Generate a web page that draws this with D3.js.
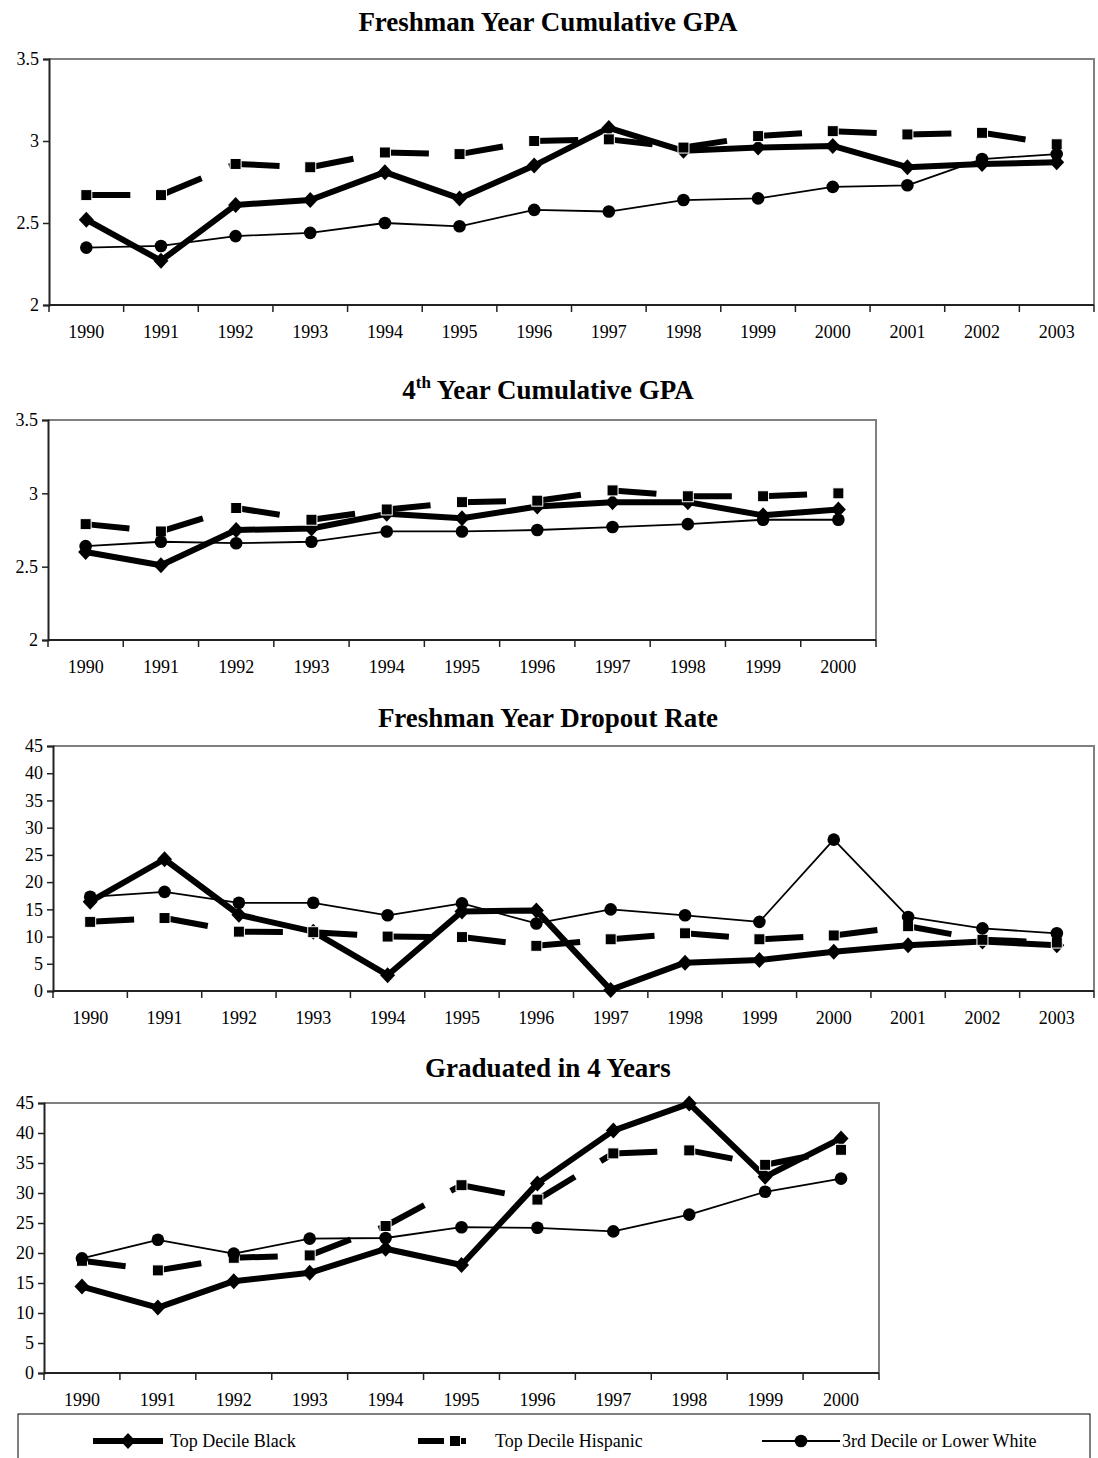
<!DOCTYPE html>
<html>
<head>
<meta charset="utf-8">
<script src="https://cdn.jsdelivr.net/npm/d3@7"></script>
<style>
  body { margin: 0; background: #fff; }
  svg { display: block; font-family: "Liberation Serif", "Times New Roman", serif; }
</style>
</head>
<body>
<script>
// Page size
const w = 1098;
const h = 1458;

// Categories
const years14 = ["1990","1991","1992","1993","1994","1995","1996","1997","1998","1999","2000","2001","2002","2003"];
const years11 = years14.slice(0, 11);

// Tick values for the value axes
const gpaTicks = [2, 2.5, 3, 3.5];
const pctTicks = [0, 5, 10, 15, 20, 25, 30, 35, 40, 45];

// Freshman Year Cumulative GPA
const freshGpaBlack    = [2.52, 2.27, 2.61, 2.64, 2.81, 2.65, 2.85, 3.08, 2.94, 2.96, 2.97, 2.84, 2.86, 2.87];
const freshGpaHispanic = [2.67, 2.67, 2.86, 2.84, 2.93, 2.92, 3.00, 3.01, 2.96, 3.03, 3.06, 3.04, 3.05, 2.98];
const freshGpaWhite    = [2.35, 2.36, 2.42, 2.44, 2.50, 2.48, 2.58, 2.57, 2.64, 2.65, 2.72, 2.73, 2.89, 2.92];

// 4th Year Cumulative GPA
const fourthGpaBlack    = [2.60, 2.51, 2.75, 2.76, 2.86, 2.83, 2.91, 2.94, 2.94, 2.85, 2.89];
const fourthGpaHispanic = [2.79, 2.74, 2.90, 2.82, 2.89, 2.94, 2.95, 3.02, 2.98, 2.98, 3.00];
const fourthGpaWhite    = [2.64, 2.67, 2.66, 2.67, 2.74, 2.74, 2.75, 2.77, 2.79, 2.82, 2.82];

// Freshman Year Dropout Rate
const dropBlack    = [16.4, 24.2, 14.0, 10.9, 2.9, 14.6, 14.8, 0.2, 5.2, 5.7, 7.2, 8.4, 9.1, 8.4];
const dropHispanic = [12.7, 13.4, 10.9, 10.8, 10.0, 9.9, 8.3, 9.5, 10.6, 9.5, 10.2, 11.9, 9.4, 8.9];
const dropWhite    = [17.3, 18.2, 16.2, 16.2, 13.9, 16.1, 12.4, 15.0, 13.9, 12.7, 27.8, 13.6, 11.5, 10.6];

// Graduated in 4 Years
const gradBlack    = [14.4, 10.9, 15.3, 16.7, 20.7, 18.0, 31.6, 40.4, 44.9, 32.7, 39.1];
const gradHispanic = [18.7, 17.1, 19.2, 19.6, 24.5, 31.3, 28.9, 36.6, 37.1, 34.7, 37.2];
const gradWhite    = [19.1, 22.2, 19.9, 22.4, 22.5, 24.3, 24.2, 23.6, 26.4, 30.2, 32.4];

const svg = d3.select("body").append("svg").attr("width", w).attr("height", h);

// Series styles (Black, Hispanic, White)
const seriesStyle = [
  { name: "Top Decile Black",          width: 6,   dash: null,    marker: "diamond" },
  { name: "Top Decile Hispanic",       width: 6,   dash: "44,30", marker: "square" },
  { name: "3rd Decile or Lower White", width: 1.8, dash: null,    marker: "circle" }
];

function drawMarker(g, type, x, y) {
  if (type === "diamond") {
    g.append("path")
      .attr("d", `M${x},${y - 8}L${x + 7.5},${y}L${x},${y + 8}L${x - 7.5},${y}Z`)
      .attr("fill", "#000");
  } else if (type === "square") {
    g.append("rect")
      .attr("x", x - 5.5).attr("y", y - 5.5)
      .attr("width", 11).attr("height", 11)
      .attr("fill", "#000").attr("stroke", "#fff").attr("stroke-width", 1);
  } else {
    g.append("circle").attr("cx", x).attr("cy", y).attr("r", 6.3).attr("fill", "#000");
  }
}

function drawChart(opt) {
  const g = svg.append("g");

  const x = d3.scaleBand().domain(opt.years).range([opt.left, opt.right]).padding(0);
  const y = d3.scaleLinear().domain(opt.domain).range([opt.bottom, opt.top]);
  const cx = d => x(d) + x.bandwidth() / 2;

  // Title
  const title = g.append("text")
    .attr("x", 548).attr("y", opt.titleY)
    .attr("text-anchor", "middle")
    .attr("font-size", 27).attr("font-weight", "bold");
  opt.title.forEach(part => {
    const t = title.append("tspan").text(part.text);
    if (part.sup) t.attr("font-size", 17).attr("dy", -11);
    else if (part.after) t.attr("dy", 11);
  });

  // Plot area border (top and right in grey)
  g.append("path")
    .attr("d", `M${opt.left},${opt.top}H${opt.right}V${opt.bottom}`)
    .attr("fill", "none").attr("stroke", "#808080").attr("stroke-width", 2);

  // Y axis
  const yAxis = d3.axisLeft(y).tickValues(opt.ticks).tickSize(6).tickPadding(4).tickFormat(d3.format(""));
  const gy = g.append("g").attr("transform", `translate(${opt.left},0)`).call(yAxis);
  gy.select(".domain").attr("stroke", "#222").attr("stroke-width", 2);
  gy.selectAll(".tick line").attr("stroke", "#222").attr("stroke-width", 1.5);
  gy.selectAll("text").attr("font-size", 18).attr("font-family", "Liberation Serif").attr("fill", "#000");

  // X axis: labels centred, tick marks between categories
  const xAxis = d3.axisBottom(x).tickSize(0).tickPadding(20);
  const gx = g.append("g").attr("transform", `translate(0,${opt.bottom})`).call(xAxis);
  gx.select(".domain").remove();
  gx.selectAll("text").attr("font-size", 18).attr("font-family", "Liberation Serif").attr("fill", "#000");
  g.append("line")
    .attr("x1", opt.left).attr("x2", opt.right)
    .attr("y1", opt.bottom).attr("y2", opt.bottom)
    .attr("stroke", "#222").attr("stroke-width", 2);
  const edges = opt.years.map(d => x(d)).concat([x(opt.years[opt.years.length - 1]) + x.bandwidth()]);
  g.selectAll(".xtick").data(edges).enter().append("line")
    .attr("x1", d => d).attr("x2", d => d)
    .attr("y1", opt.bottom).attr("y2", opt.bottom + 7)
    .attr("stroke", "#222").attr("stroke-width", 1.5);

  // Series
  opt.series.forEach((vals, si) => {
    const st = seriesStyle[si];
    const pts = vals.map((v, i) => [cx(opt.years[i]), y(v)]);
    const sg = g.append("g");
    if (st.dash) {
      // dash pattern restarts for every segment
      for (let i = 0; i < pts.length - 1; i++) {
        sg.append("line")
          .attr("x1", pts[i][0]).attr("y1", pts[i][1])
          .attr("x2", pts[i + 1][0]).attr("y2", pts[i + 1][1])
          .attr("stroke", "#000").attr("stroke-width", st.width)
          .attr("stroke-dasharray", st.dash);
      }
    } else {
      sg.append("path")
        .attr("d", d3.line()(pts))
        .attr("fill", "none").attr("stroke", "#000")
        .attr("stroke-width", st.width).attr("stroke-linejoin", "round");
    }
    pts.forEach(p => drawMarker(sg, st.marker, p[0], p[1]));
  });
}

drawChart({
  title: [{ text: "Freshman Year Cumulative GPA" }],
  titleY: 31, years: years14, domain: [2, 3.5], ticks: gpaTicks,
  left: 49, right: 1094, top: 59, bottom: 305,
  series: [freshGpaBlack, freshGpaHispanic, freshGpaWhite]
});

drawChart({
  title: [{ text: "4" }, { text: "th", sup: true }, { text: " Year Cumulative GPA", after: true }],
  titleY: 399, years: years11, domain: [2, 3.5], ticks: gpaTicks,
  left: 48, right: 876, top: 420, bottom: 640,
  series: [fourthGpaBlack, fourthGpaHispanic, fourthGpaWhite]
});

drawChart({
  title: [{ text: "Freshman Year Dropout Rate" }],
  titleY: 727, years: years14, domain: [0, 45], ticks: pctTicks,
  left: 53, right: 1094, top: 746, bottom: 991,
  series: [dropBlack, dropHispanic, dropWhite]
});

drawChart({
  title: [{ text: "Graduated in 4 Years" }],
  titleY: 1077, years: years11, domain: [0, 45], ticks: pctTicks,
  left: 44, right: 879, top: 1103, bottom: 1373,
  series: [gradBlack, gradHispanic, gradWhite]
});

// Legend
const legend = svg.append("g");
legend.append("rect")
  .attr("x", 18).attr("y", 1414).attr("width", 1072).attr("height", 70)
  .attr("fill", "none").attr("stroke", "#000").attr("stroke-width", 1);

const legendItems = [
  { x1: 93, x2: 163, textX: 170 },
  { x1: 418, x2: 466, textX: 495 },
  { x1: 762, x2: 840, textX: 842 }
];
legendItems.forEach((it, i) => {
  const st = seriesStyle[i];
  const ly = 1441;
  const lg = legend.append("g");
  lg.append("line")
    .attr("x1", it.x1).attr("x2", it.x2).attr("y1", ly).attr("y2", ly)
    .attr("stroke", "#000").attr("stroke-width", st.width)
    .attr("stroke-dasharray", st.dash ? "26,8" : null);
  drawMarker(lg, st.marker, i === 1 ? 455 : (it.x1 + it.x2) / 2, ly);
  legend.append("text")
    .attr("x", it.textX).attr("y", ly + 6)
    .attr("font-size", 18)
    .text(st.name);
});
</script>
</body>
</html>
